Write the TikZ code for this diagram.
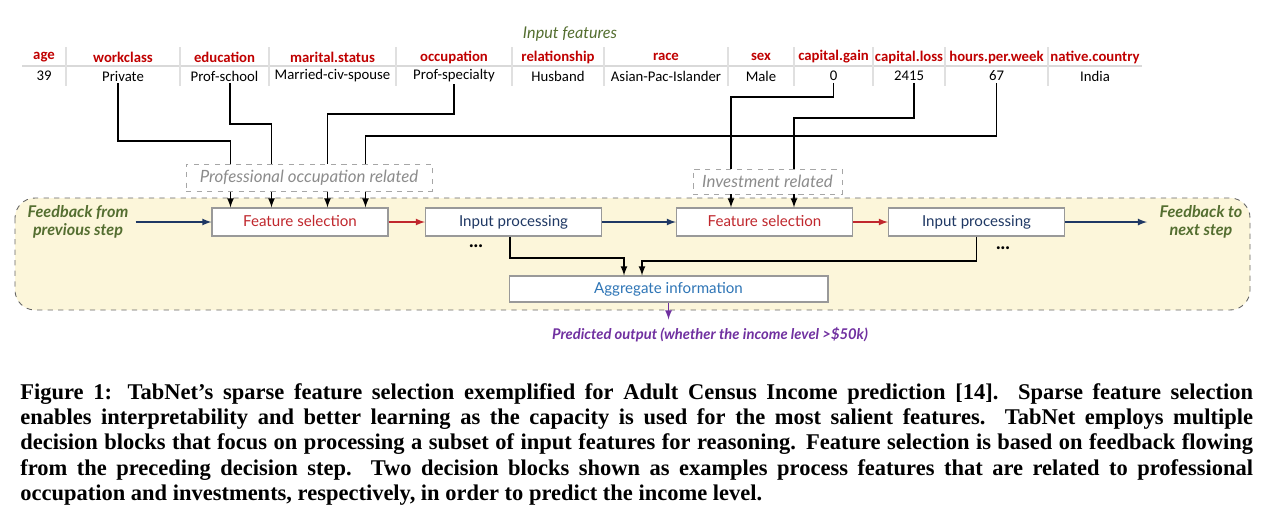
\documentclass[tikz,border=0pt]{standalone}
\usepackage{fontspec}
\setmainfont{Liberation Serif}
\newfontfamily\tabfont{Carlito}
\newfontfamily\dfont{Lato}
\usepackage{tikz}
\usetikzlibrary{shapes,arrows}
\usetikzlibrary{calc}

\definecolor{hdred}{RGB}{192,0,0}
\definecolor{fsred}{RGB}{192,39,45}
\definecolor{ipnavy}{RGB}{31,56,100}
\definecolor{olive}{RGB}{84,110,48}
\definecolor{aggblue}{RGB}{46,117,182}
\definecolor{outpurple}{RGB}{112,48,160}
\definecolor{lblgrey}{RGB}{140,140,140}
\definecolor{regfill}{RGB}{252,246,218}

% one justified caption line
\newcommand\capline[1]{\hbox to 24.66cm{\spaceskip=.25em plus 1em minus .05em #1}}

\begin{document}
\begin{tikzpicture}[x=0.02cm, y=-0.02cm,
	head/.style={font=\tabfont\bfseries\fontsize{8.4}{9}\selectfont, text=hdred, inner sep=0pt},
	val/.style={font=\tabfont\fontsize{8.4}{9}\selectfont, inner sep=1pt},
	box/.style={draw=black!40, fill=white, line width=0.6pt, minimum width=3.52cm, minimum height=0.56cm, inner sep=0pt, text height=1.5ex, text depth=.3ex, font=\dfont\fontsize{8.6}{9}\selectfont},
	lbl/.style={draw=black!35, dashed, fill=white, line width=0.5pt, inner sep=0pt, text=lblgrey, font=\dfont\itshape\fontsize{9.6}{10}\selectfont},
	note/.style={font=\dfont\bfseries\itshape\fontsize{9.2}{10.5}\selectfont, text=olive, align=center, inner sep=4pt},
	dots/.style={font=\dfont\bfseries\fontsize{11}{12}\selectfont},
	capt/.style={anchor=base west, inner sep=0pt, font=\fontsize{12.8}{14.2}\selectfont\bfseries},
	arr/.style={-latex, line width=0.8pt}]
	\useasboundingbox (0,0) rectangle (1280,522);
	
	\def\yhead{57} % header row
	\def\yval{76} % value row
	\def\yocc{114} % turn of occupation line
	\def\yedu{124} % turn of education line
	\def\yhrs{136} % turn of hours line
	\def\ywrk{141} % turn of workclass line
	\def\ygain{97} % turn of capital.gain line
	\def\yloss{118} % turn of capital.loss line
	
	% decision step region
	\draw[black!60, dashed, fill=regfill, rounded corners=0.4cm, line width=0.5pt] (15,198) rectangle (1250,310);
	
	% table of input features
	\node[font=\dfont\itshape\fontsize{9.2}{10}\selectfont, text=olive] (title) at (570,34) {Input features};
	\draw[black!15, line width=0.6pt] (22,66) -- (1142,66);
	\foreach \x in {66,180,269,396,512,604,728,794,873,945,1048}
	\draw[black!12, line width=0.6pt] (\x,47) -- (\x,86);
	\foreach \x/\h/\v [count=\i] in {44/age/39, 123/workclass/Private, 224.5/education/Prof-school,
		332.5/marital.status/Married-civ-spouse, 454/occupation/Prof-specialty, 558/relationship/Husband,
		666/race/Asian-Pac-Islander, 761/sex/Male, 833.5/capital.gain/0, 909/capital.loss/2415,
		996.5/hours.per.week/67, 1095/native.country/India}
	{
		\node[head] (h\i) at (\x,\yhead) {\h};
		\node[val] (v\i) at (\x,\yval) {\v};
	}
	
	% blocks
	\node[box, text=fsred] (fs1) at (300,222) {Feature selection};
	\node[box, text=ipnavy] (ip1) at (513.5,222) {Input processing};
	\node[box, text=fsred] (fs2) at (764.5,222) {Feature selection};
	\node[box, text=ipnavy] (ip2) at (976.5,222) {Input processing};
	\node[box, text=aggblue, minimum width=6.38cm, minimum height=0.52cm] (agg) at (668.5,289) {Aggregate information};
	
	\node[note] (fbin) at (78,222) {Feedback from\\previous step};
	\node[note] (fbout) at (1201,222) {Feedback to\\next step};
	\node[dots] (dots1) at (476,246) {...};
	\node[dots] (dots2) at (1003,248) {...};
	
	% main flow
	\draw[arr, ipnavy] (fbin) -- (fs1);
	\draw[arr, fsred] (fs1) -- (ip1);
	\draw[arr, ipnavy] (ip1) -- (fs2);
	\draw[arr, fsred] (fs2) -- (ip2);
	\draw[arr, ipnavy, shorten >=3pt] (ip2) -- (fbout);
	
	% entry points on feature selection
	\coordinate (in1) at ($(fs1.north west)+(19,0)$);
	\coordinate (in2) at ($(fs1.north west)+(60,0)$);
	\coordinate (in3) at ($(fs1.north west)+(116,0)$);
	\coordinate (in4) at ($(fs1.north west)+(154,0)$);
	\coordinate (in5) at ($(fs2.north west)+(55,0)$);
	\coordinate (in6) at ($(fs2.north west)+(118,0)$);
	
	% selected features
	\draw[arr] ([xshift=-0.1cm]v2.south) |- (in1 |- 0,\ywrk) -- (in1);
	\draw[arr] ([xshift=0.11cm]v3.south) |- (in2 |- 0,\yedu) -- (in2);
	\draw[arr] (v5.south) |- (in3 |- 0,\yocc) -- (in3);
	\draw[arr] (v11.south) |- (in4 |- 0,\yhrs) -- (in4);
	\draw[arr] (v9.south) |- (in5 |- 0,\ygain) -- (in5);
	\draw[arr] ([xshift=0.1cm]v10.south) |- (in6 |- 0,\yloss) -- (in6);
	
	% group labels
	\node[lbl, minimum width=4.92cm, minimum height=0.54cm] (prof) at (309,177.5) {Professional occupation related};
	\node[lbl, minimum width=2.98cm, minimum height=0.5cm] (invest) at (767.5,181.5) {Investment related};
	
	% aggregation
	\coordinate (agga) at ($(agg.north)+(-44.5,0)$);
	\coordinate (aggb) at ($(agg.north)+(-26.5,0)$);
	\draw[arr] ([xshift=-0.07cm]ip1.south) |- (agga |- 0,258) -- (agga);
	\draw[arr] (ip2.south) |- (aggb |- 0,261) -- (aggb);
	
	% output
	\node[font=\dfont\bfseries\itshape\fontsize{8.4}{10}\selectfont, text=outpurple] (pred) at (710,335) {Predicted output (whether the income level >\$50k)};
	\coordinate (outtip) at ($(agg.south)+(0,17)$);
	\draw[arr, outpurple] (agg.south) -- (outtip);
	
	% caption
	\node[capt] (cap1) at (20,399) {\capline{Figure 1: TabNet's sparse feature selection exemplified for Adult Census Income prediction [14]. Sparse feature selection}};
	\node[capt] (cap2) at (20,424) {\capline{enables interpretability and better learning as the capacity is used for the most salient features. TabNet employs multiple}};
	\node[capt] (cap3) at (20,449.5) {\capline{decision blocks that focus on processing a subset of input features for reasoning. Feature selection is based on feedback flowing}};
	\node[capt] (cap4) at (20,475) {\capline{from the preceding decision step. Two decision blocks shown as examples process features that are related to professional}};
	\node[capt] (cap5) at (20,500) {occupation and investments, respectively, in order to predict the income level.};
\end{tikzpicture}
\end{document}
